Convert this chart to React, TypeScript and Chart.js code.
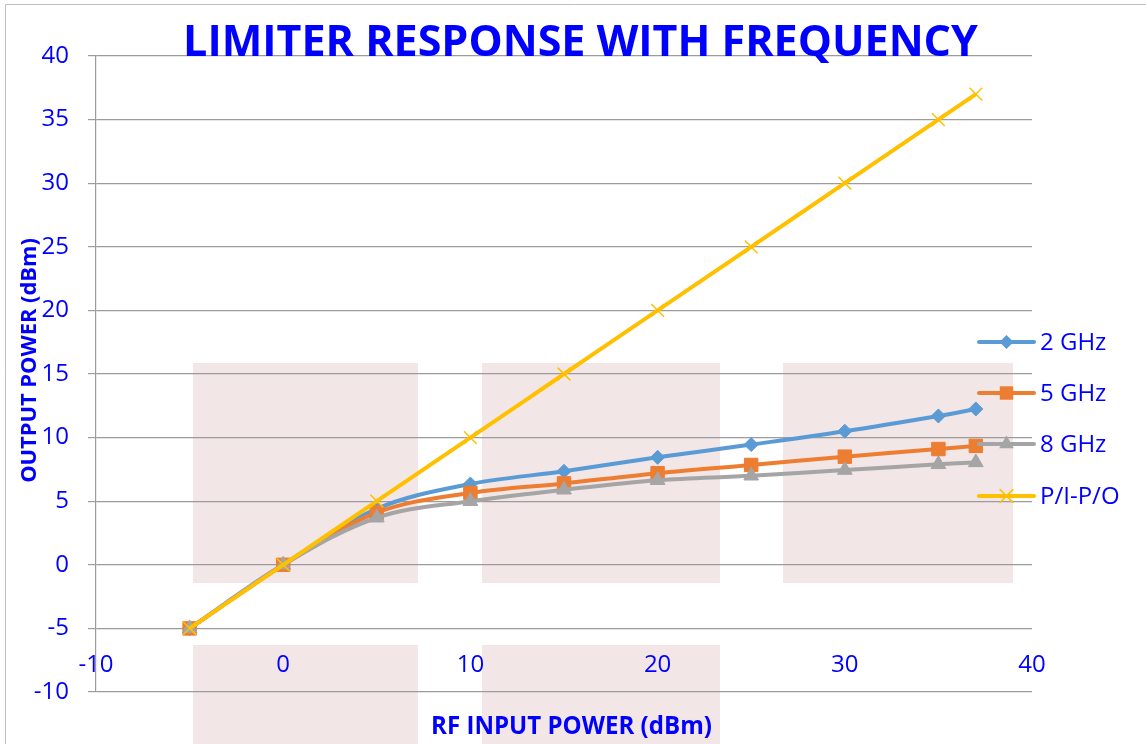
import React, { useEffect, useRef } from 'react';
import { Chart, registerables } from 'chart.js';

Chart.register(...registerables);

// ---- data ----
const inputPower = [-5, 0, 5, 10, 15, 20, 25, 30, 35, 37];
const out2GHz = [-5, 0, 4.4, 6.35, 7.35, 8.45, 9.45, 10.5, 11.7, 12.25];
const out5GHz = [-5, 0, 4.1, 5.65, 6.4, 7.2, 7.85, 8.5, 9.1, 9.35];
const out8GHz = [-5, 0, 3.7, 5.0, 5.9, 6.65, 7.0, 7.45, 7.9, 8.05];
const outPIPO = [-5, 0, 5, 10, 15, 20, 25, 30, 35, 37];
const seriesNames = ['2 GHz', '5 GHz', '8 GHz', 'P/I-P/O'];
const chartTitle = 'LIMITER RESPONSE WITH FREQUENCY';
const xTitle = 'RF INPUT POWER (dBm)';
const yTitle = 'OUTPUT POWER (dBm)';
const xMin = -10, xMax = 40, xStep = 10;
const yMin = -10, yMax = 40, yStep = 5;

const BLUE_TEXT = '#0000FF';
const FONT = '"Open Sans", "DejaVu Sans", sans-serif';
const GRID = '#9C9C9C';

const colors = ['#5B9BD5', '#ED7D31', '#A5A5A5', '#FFC000'];
const styles = ['rectRot', 'rect', 'triangle', 'crossRot'];
const radii = [7, 9.5, 8.5, 9];

function pts(ys: number[]) {
  return inputPower.map((x, i) => ({ x, y: ys[i] }));
}

function fitFont(ctx: CanvasRenderingContext2D, text: string, weight: string, target: number) {
  ctx.font = `${weight} 40px ${FONT}`;
  const w = ctx.measureText(text).width;
  return (40 * target) / w;
}

function drawMarker(ctx: CanvasRenderingContext2D, style: string, x: number, y: number, r: number, color: string) {
  ctx.save();
  ctx.fillStyle = color;
  ctx.strokeStyle = color;
  ctx.lineWidth = 1.5;
  ctx.beginPath();
  if (style === 'rectRot') {
    ctx.moveTo(x, y - r);
    ctx.lineTo(x + r, y);
    ctx.lineTo(x, y + r);
    ctx.lineTo(x - r, y);
    ctx.closePath();
    ctx.fill();
  } else if (style === 'rect') {
    const s = Math.SQRT1_2 * r;
    ctx.rect(x - s, y - s, 2 * s, 2 * s);
    ctx.fill();
  } else if (style === 'triangle') {
    for (let k = 0; k < 3; k++) {
      const a = (k * 2 * Math.PI) / 3;
      const px = x + Math.sin(a) * r;
      const py = y - Math.cos(a) * r;
      if (k === 0) ctx.moveTo(px, py);
      else ctx.lineTo(px, py);
    }
    ctx.closePath();
    ctx.fill();
  } else {
    const d = Math.SQRT1_2 * r;
    ctx.moveTo(x - d, y - d);
    ctx.lineTo(x + d, y + d);
    ctx.moveTo(x - d, y + d);
    ctx.lineTo(x + d, y - d);
    ctx.stroke();
  }
  ctx.restore();
}

const decorPlugin = {
  id: 'decor',
  beforeDraw(chart: any) {
    const ctx = chart.ctx as CanvasRenderingContext2D;
    ctx.save();
    // faint background panels
    ctx.fillStyle = '#F3E6E6';
    ctx.fillRect(193, 363, 225, 220);
    ctx.fillRect(482, 363, 238, 220);
    ctx.fillRect(783, 363, 230, 220);
    ctx.fillRect(193, 645, 225, 99);
    ctx.fillRect(482, 645, 238, 99);
    // frame
    ctx.strokeStyle = '#BFBFBF';
    ctx.lineWidth = 1;
    ctx.beginPath();
    ctx.moveTo(5.5, 744);
    ctx.lineTo(5.5, 4.5);
    ctx.lineTo(1146, 4.5);
    ctx.stroke();
    ctx.restore();
  },
  afterDraw(chart: any) {
    const ctx = chart.ctx as CanvasRenderingContext2D;
    ctx.save();
    ctx.fillStyle = BLUE_TEXT;
    // title
    let fs = fitFont(ctx, chartTitle, 'bold', 795);
    ctx.font = `bold ${fs}px ${FONT}`;
    ctx.textAlign = 'center';
    ctx.textBaseline = 'alphabetic';
    ctx.fillText(chartTitle, 580.5, 56);
    // x title
    fs = fitFont(ctx, xTitle, 'bold', 281);
    ctx.font = `bold ${fs}px ${FONT}`;
    ctx.fillText(xTitle, 571.5, 734);
    // y title
    fs = fitFont(ctx, yTitle, 'bold', 245);
    ctx.font = `bold ${fs}px ${FONT}`;
    ctx.save();
    ctx.translate(36, 360.5);
    ctx.rotate(-Math.PI / 2);
    ctx.fillText(yTitle, 0, 0);
    ctx.restore();
    // legend
    const ys = [342, 393, 444, 496];
    seriesNames.forEach((name, i) => {
      const y = ys[i];
      ctx.strokeStyle = colors[i];
      ctx.lineWidth = 4;
      ctx.lineCap = 'round';
      ctx.beginPath();
      ctx.moveTo(979, y);
      ctx.lineTo(1034, y);
      ctx.stroke();
      drawMarker(ctx, styles[i], 1006.5, y, radii[i], colors[i]);
      ctx.fillStyle = BLUE_TEXT;
      ctx.font = `24px ${FONT}`;
      ctx.textAlign = 'left';
      ctx.textBaseline = 'middle';
      ctx.fillText(name, 1040, y + 1);
    });
    ctx.restore();
  },
};

export default function App() {
  const canvasRef = useRef<HTMLCanvasElement | null>(null);

  useEffect(() => {
    if (!canvasRef.current) return;
    const series = [out2GHz, out5GHz, out8GHz, outPIPO];
    const chart = new Chart(canvasRef.current, {
      type: 'scatter',
      data: {
        datasets: series.map((ys, i) => ({
          label: seriesNames[i],
          data: pts(ys),
          showLine: true,
          tension: 0.35,
          borderColor: colors[i],
          backgroundColor: colors[i],
          borderWidth: 4,
          pointStyle: styles[i] as any,
          pointRadius: radii[i],
          pointBorderColor: colors[i],
          pointBackgroundColor: colors[i],
          pointBorderWidth: i === 3 ? 1.5 : 1,
          order: 3 - i,
        })),
      },
      options: {
        animation: false,
        responsive: false,
        maintainAspectRatio: false,
        layout: { padding: { left: 0, right: 114, top: 56, bottom: 52 } },
        plugins: {
          legend: { display: false },
          tooltip: { enabled: false },
          title: { display: false },
        },
        scales: {
          x: {
            type: 'linear',
            position: { y: -5 } as any,
            min: xMin,
            max: xMax,
            grid: { display: false, drawTicks: false },
            border: { display: false },
            ticks: {
              stepSize: xStep,
              color: BLUE_TEXT,
              font: { family: FONT, size: 24 },
              padding: 22,
              maxRotation: 0,
              autoSkip: false,
            },
          },
          y: {
            type: 'linear',
            min: yMin,
            max: yMax,
            afterFit: (scale: any) => {
              scale.width = 96;
            },
            grid: { color: GRID, lineWidth: 1.2, tickLength: 8, drawTicks: true },
            border: { display: true, color: GRID, width: 1.2 },
            ticks: {
              stepSize: yStep,
              color: BLUE_TEXT,
              font: { family: FONT, size: 24 },
              padding: 19,
            },
          },
        },
      },
      plugins: [decorPlugin],
    });
    return () => chart.destroy();
  }, []);

  return (
    <div style={{ position: 'absolute', left: 0, top: 0, width: 1146, height: 744, background: '#fff' }}>
      <canvas ref={canvasRef} width={1146} height={744} style={{ display: 'block', width: 1146, height: 744 }} />
    </div>
  );
}
